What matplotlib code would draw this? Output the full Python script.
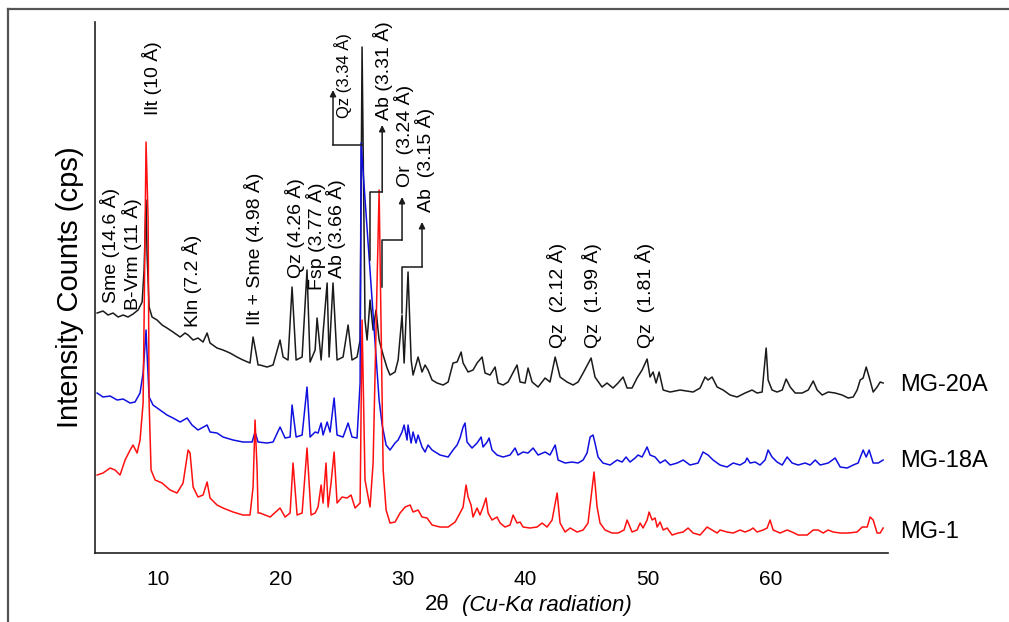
import matplotlib
matplotlib.use("Agg")
import matplotlib.pyplot as plt
from matplotlib.lines import Line2D

plt.rcParams['font.family'] = ['Liberation Sans', 'DejaVu Sans']

# ---- data (2theta in degrees, intensity in arbitrary offset units) ----
mg20a_2theta = [5.07, 5.55, 5.96, 6.37, 6.78, 7.19, 7.59, 8.00, 8.41, 8.74, 8.90, 9.06, 9.14, 9.31, 9.55, 9.96,
                10.37, 10.77, 11.26, 11.84, 12.24, 12.49, 12.90, 13.30, 13.71, 14.04, 14.28, 14.85, 15.34, 15.91,
                16.48, 16.97, 17.54, 17.79, 18.03, 18.20, 18.36, 18.93, 19.42, 19.99, 20.24, 20.64, 20.97, 21.30,
                21.79, 22.19, 22.44, 22.85, 23.01, 23.34, 23.50, 23.83, 23.99, 24.31, 24.64, 25.13, 25.54, 25.86,
                26.27, 26.52, 26.68, 26.92, 27.09, 27.33, 27.58, 27.82, 28.07, 28.40, 28.72, 28.96, 29.37, 29.62,
                29.94, 30.11, 30.43, 30.68, 30.84, 31.25, 31.57, 31.82, 32.06, 32.39, 32.80, 33.29, 33.70, 34.10,
                34.43, 34.76, 34.92, 35.33, 35.73, 36.06, 36.47, 36.71, 37.12, 37.53, 37.77, 38.18, 38.59, 39.32,
                39.57, 39.98, 40.22, 40.55, 41.04, 41.61, 42.01, 42.43, 42.83, 43.40, 43.89, 44.30, 44.71, 45.36,
                45.68, 46.25, 46.66, 47.15, 47.56, 47.97, 48.30, 48.70, 49.11, 49.52, 49.93, 50.17, 50.42, 50.66,
                50.91, 51.24, 51.81, 52.62, 53.68, 54.25, 54.66, 54.90, 55.23, 55.64, 56.13, 56.70, 57.27, 57.92,
                58.49, 58.90, 59.31, 59.47, 59.64, 59.80, 60.12, 60.53, 60.95, 61.27, 61.60, 62.01, 62.58, 63.07,
                63.48, 63.80, 64.21, 64.70, 65.27, 65.84, 66.33, 66.74, 67.06, 67.31, 67.55, 67.80, 68.04, 68.37,
                68.69, 68.94, 69.18]
mg20a_counts = [240, 242, 238, 240, 236, 238, 236, 239, 243, 251, 283, 353, 300, 246, 236, 233,
                228, 225, 221, 216, 220, 218, 213, 215, 211, 220, 210, 205, 203, 200,
                196, 193, 190, 216, 200, 188, 188, 186, 188, 213, 196, 193, 266, 193,
                196, 283, 191, 203, 235, 193, 220, 270, 196, 270, 193, 196, 228, 193,
                196, 213, 506, 233, 213, 253, 223, 243, 213, 198, 185, 178, 181, 193,
                238, 190, 281, 193, 178, 196, 181, 188, 183, 173, 170, 168, 171, 190,
                191, 201, 190, 181, 183, 190, 196, 180, 178, 186, 170, 168, 171, 188,
                171, 170, 185, 171, 166, 175, 171, 196, 176, 171, 168, 171, 180, 195,
                176, 166, 170, 165, 170, 176, 165, 165, 175, 183, 194, 176, 181, 170,
                181, 163, 161, 163, 161, 165, 176, 173, 176, 166, 163, 158, 156, 160,
                163, 160, 161, 183, 205, 173, 163, 161, 163, 174, 166, 160, 160, 163,
                172, 163, 158, 161, 160, 158, 155, 156, 163, 173, 175, 186, 176, 161,
                166, 171, 170]

mg18a_2theta = [5.07, 5.55, 6.13, 6.70, 7.19, 7.76, 8.16, 8.57, 8.82, 9.06, 9.14, 9.31, 9.63, 10.20, 10.77,
                11.26, 11.84, 12.41, 12.81, 13.30, 14.04, 14.28, 14.85, 15.34, 16.16, 16.97, 17.71, 17.95, 18.20,
                18.93, 19.42, 19.99, 20.40, 20.81, 20.97, 21.30, 21.79, 22.19, 22.44, 22.85, 23.09, 23.34, 23.50,
                23.83, 24.07, 24.40, 24.64, 25.13, 25.54, 25.86, 26.27, 26.52, 26.60, 28.07, 28.32, 28.64, 28.96,
                29.37, 29.62, 29.94, 30.11, 30.35, 30.43, 30.68, 30.84, 31.08, 31.25, 31.57, 31.82, 32.06, 32.39,
                33.04, 33.70, 34.10, 34.43, 34.67, 34.92, 35.08, 35.24, 35.65, 36.06, 36.39, 36.55, 36.88, 37.04,
                37.28, 37.69, 38.18, 38.75, 39.16, 39.40, 39.81, 40.22, 40.63, 41.04, 41.61, 42.01, 42.43, 42.67,
                43.24, 43.81, 44.30, 44.71, 45.03, 45.28, 45.52, 45.68, 45.93, 46.33, 46.91, 47.48, 47.89, 48.21,
                48.54, 48.95, 49.19, 49.52, 49.93, 50.17, 50.58, 50.99, 51.40, 51.81, 52.38, 52.87, 53.43, 54.09,
                54.49, 54.90, 55.31, 55.88, 56.45, 56.95, 57.51, 57.92, 58.08, 58.33, 58.74, 59.14, 59.55, 59.80,
                60.12, 60.53, 60.95, 61.35, 61.76, 62.25, 62.82, 63.23, 63.64, 64.05, 64.70, 65.27, 65.68, 66.25,
                66.74, 67.14, 67.55, 67.80, 68.04, 68.37, 68.78, 69.18]
mg18a_counts = [160, 156, 157, 153, 154, 150, 151, 160, 180, 223, 200, 156, 148, 143, 138,
                135, 131, 135, 128, 123, 128, 121, 120, 116, 113, 111, 111, 121, 111,
                110, 111, 126, 115, 116, 148, 116, 118, 166, 116, 121, 120, 130, 118,
                131, 121, 155, 118, 116, 130, 116, 115, 170, 410, 153, 128, 108, 103,
                110, 113, 121, 128, 113, 128, 110, 121, 110, 118, 106, 101, 108, 103,
                98, 96, 103, 108, 115, 126, 130, 111, 105, 110, 116, 106, 111, 115,
                103, 98, 96, 98, 105, 98, 101, 100, 105, 98, 101, 98, 108, 93,
                90, 91, 90, 93, 100, 116, 118, 110, 96, 90, 88, 93, 91, 96,
                91, 95, 98, 96, 106, 98, 96, 90, 93, 88, 90, 93, 88, 90,
                101, 98, 93, 88, 86, 90, 88, 91, 95, 90, 91, 88, 93, 103,
                96, 91, 88, 96, 90, 88, 90, 88, 93, 88, 90, 95, 86, 85,
                88, 90, 103, 96, 103, 90, 90, 93]

mg1_2theta = [5.07, 5.55, 6.13, 6.53, 6.94, 7.35, 7.76, 8.00, 8.33, 8.57, 8.82, 8.90, 9.06, 9.23, 9.31, 9.47,
              9.80, 10.37, 11.02, 11.59, 12.08, 12.49, 12.65, 12.90, 13.30, 13.71, 14.04, 14.28, 14.85, 15.34,
              16.16, 16.97, 17.54, 17.79, 17.95, 18.12, 18.20, 18.36, 19.18, 19.99, 20.40, 20.81, 21.05, 21.38,
              21.79, 22.19, 22.52, 22.85, 23.09, 23.34, 23.50, 23.74, 23.91, 24.15, 24.40, 24.64, 25.05, 25.46,
              25.78, 26.11, 26.52, 26.68, 26.92, 27.33, 27.58, 28.07, 28.40, 28.64, 28.96, 29.37, 29.78, 30.19,
              30.60, 30.84, 31.25, 31.57, 31.98, 32.39, 33.04, 33.70, 34.27, 34.67, 34.92, 35.16, 35.33, 35.57,
              35.73, 36.06, 36.30, 36.55, 36.79, 36.96, 37.28, 37.69, 37.94, 38.34, 38.75, 39.00, 39.32, 39.57,
              39.81, 40.38, 40.95, 41.36, 41.77, 42.18, 42.59, 42.83, 43.24, 43.65, 44.22, 44.71, 45.11, 45.36,
              45.60, 45.85, 46.09, 46.50, 47.07, 47.56, 48.05, 48.30, 48.70, 49.11, 49.36, 49.60, 49.93, 50.09,
              50.34, 50.58, 50.75, 50.99, 51.24, 51.56, 51.97, 52.46, 52.87, 53.27, 53.68, 54.25, 54.82, 55.23,
              55.64, 55.88, 56.45, 56.95, 57.51, 57.92, 58.33, 58.57, 58.90, 59.39, 59.72, 59.96, 60.21, 60.78,
              61.35, 61.76, 62.25, 62.99, 63.48, 63.88, 64.29, 64.70, 65.11, 65.68, 66.33, 67.06, 67.47, 67.88,
              68.12, 68.37, 68.69, 68.94, 69.18]
mg1_counts = [78, 80, 85, 83, 78, 93, 103, 108, 100, 113, 150, 233, 411, 333, 150, 83,
              73, 70, 63, 60, 70, 103, 100, 66, 56, 58, 71, 55, 48, 45,
              41, 38, 38, 66, 133, 83, 40, 40, 36, 45, 36, 40, 90, 38,
              40, 105, 38, 40, 46, 68, 50, 90, 46, 70, 101, 50, 56, 55,
              58, 45, 50, 233, 73, 46, 90, 363, 83, 43, 30, 31, 40, 46,
              48, 41, 43, 36, 35, 28, 26, 26, 31, 40, 46, 68, 56, 48,
              36, 45, 38, 46, 55, 40, 33, 36, 30, 26, 28, 38, 30, 31,
              26, 25, 26, 30, 26, 33, 60, 30, 21, 25, 21, 23, 30, 56,
              81, 46, 30, 23, 20, 20, 23, 33, 21, 23, 30, 25, 33, 41,
              33, 35, 26, 31, 23, 25, 18, 20, 21, 25, 20, 18, 26, 23,
              20, 23, 21, 20, 23, 21, 23, 25, 21, 23, 25, 33, 23, 20,
              23, 21, 18, 18, 23, 23, 20, 23, 21, 20, 20, 21, 26, 26,
              36, 33, 20, 20, 25]

sample_names = ["MG-20A", "MG-18A", "MG-1"]
x_ticks = [10, 20, 30, 40, 50, 60]

# ---- figure ----
fig = plt.figure(figsize=(10.09, 6.22), dpi=100)
ax = fig.add_axes([0.0942, 0.1109, 0.7859, 0.8537])
ax.set_xlim(4.9, 69.58)
ax.set_ylim(0, 531)

ax.plot(mg20a_2theta, mg20a_counts, color='#1a1a1a', lw=1.1, zorder=2)
ax.plot(mg18a_2theta, mg18a_counts, color='#1010e0', lw=1.1, zorder=3)
ax.plot(mg1_2theta, mg1_counts, color='#ff1010', lw=1.1, zorder=4)

for s in ['top', 'right']:
    ax.spines[s].set_visible(False)
for s in ['left', 'bottom']:
    ax.spines[s].set_color('#222222')
    ax.spines[s].set_linewidth(1.2)
ax.set_xticks(x_ticks)
ax.set_xticklabels([str(t) for t in x_ticks])
ax.set_yticks([])
ax.tick_params(axis='x', length=0, pad=12, labelsize=15)

# y label
fig.text(70 / 1009, 1 - 287 / 622, "Intensity Counts (cps)", fontsize=21, rotation=90,
         ha='center', va='center')

# x label: upright 2θ + italic text
fig.text(450 / 1009, 1 - 605 / 622, "2θ", fontsize=16, ha='right', va='center')
fig.text(462 / 1009, 1 - 605 / 622, "(Cu-Kα radiation)", fontsize=16, style='italic', ha='left', va='center')

# sample labels
sample_y = [168, 92, 21]
for name, yv in zip(sample_names, sample_y):
    ax.text(70.56, yv, name, fontsize=17, ha='left', va='center', clip_on=False)

# peak labels (text, x, bottom y, size)
peak_labels = [
    ("Sme (14.6 Å)", 6.13, 250, 14), ("B-Vrm (11 Å)", 7.92, 243, 14), ("Ilt (10 Å)", 9.55, 438, 14),
    ("Kln (7.2 Å)", 12.81, 226, 14), ("Ilt + Sme (4.98 Å)", 17.87, 228, 14), ("Qz (4.26 Å)", 21.22, 275, 14),
    ("Fsp (3.77 Å)", 22.93, 263, 14), ("Ab (3.66 Å)", 24.56, 275, 14), ("Qz (3.34 Å)", 25.13, 435, 12),
    ("Ab (3.31 Å)", 28.40, 433, 14), ("Or  (3.24 Å)", 30.11, 366, 14), ("Ab  (3.15 Å)", 31.82, 341, 14),
    ("Qz  (2.12 Å)", 42.59, 205, 14), ("Qz  (1.99 Å)", 45.44, 205, 14), ("Qz  (1.81 Å)", 49.76, 205, 14),
]
for txt, xv, yv, fs in peak_labels:
    ax.text(xv, yv, txt, rotation=90, fontsize=fs, ha='center', va='bottom', zorder=6)

# connectors with arrows: (path points..., last point = arrow tip)
connectors = [
    [(26.68, 408), (24.31, 408), (24.31, 463)],
    [(27.33, 293), (27.33, 361), (28.32, 361), (28.32, 428)],
    [(28.32, 266), (28.32, 313), (29.94, 313), (29.94, 356)],
    [(29.94, 240), (29.94, 286), (31.57, 286), (31.57, 331)],
]
for pts in connectors:
    xs = [p[0] for p in pts[:-1]]
    ys = [p[1] for p in pts[:-1]]
    ax.plot(xs, ys, color='#1a1a1a', lw=1.1, zorder=5)
    ax.annotate("", xy=pts[-1], xytext=pts[-2],
                arrowprops=dict(arrowstyle='-|>', color='#1a1a1a', lw=1.1,
                                mutation_scale=9, shrinkA=0, shrinkB=0), zorder=5)

# outer frame (top and left)
fig.add_artist(Line2D([8 / 1009, 1.0], [1 - 9 / 622, 1 - 9 / 622], color='#555555', lw=1.6,
                      transform=fig.transFigure))
fig.add_artist(Line2D([8 / 1009, 8 / 1009], [0, 1 - 9 / 622], color='#555555', lw=1.6,
                      transform=fig.transFigure))

fig.savefig("out.png", dpi=100)
